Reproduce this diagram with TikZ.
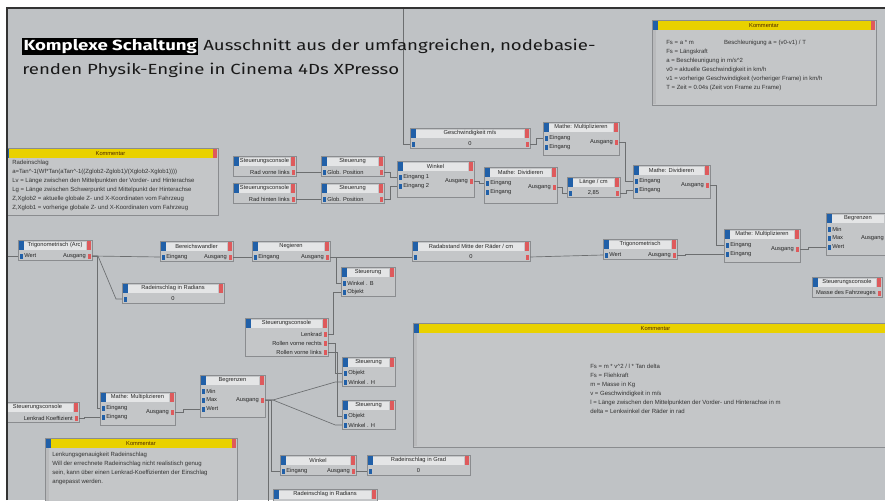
\documentclass[tikz,border=0pt]{standalone}
\usepackage{fontspec}
\setmainfont{Liberation Sans}
\newfontfamily\capfont[FakeStretch=1.27]{Fira Sans}
\usetikzlibrary{calc}
\setlength{\fboxsep}{1pt}

\definecolor{xpbg}{HTML}{BFC2C5}
\definecolor{xpbody}{HTML}{C4C6C8}
\definecolor{xpedge}{HTML}{8A8C8F}
\definecolor{xphead}{HTML}{E4E5E6}
\definecolor{xpblue}{HTML}{2160A8}
\definecolor{xpred}{HTML}{DE5A5C}
\definecolor{xpyellow}{HTML}{E9D100}
\definecolor{xpwire}{HTML}{6C6E70}

\tikzset{
  xbody/.style={fill=xpbody, draw=xpedge, line width=0.45pt},
  xhead/.style={fill=xphead},
  xblue/.style={fill=xpblue},
  xred/.style={fill=xpred},
  xyellow/.style={fill=xpyellow},
  xstrip/.style={fill=xpedge!60},
  xlabel/.style={font=\fontsize{4.3}{5}\selectfont, inner sep=0pt, text=black!85},
  xnote/.style={font=\fontsize{4.5}{6.8}\selectfont, inner sep=0pt, text=black!80, align=left, anchor=north west},
  wire/.style={draw=xpwire, line width=0.5pt},
  captext/.style={font=\capfont\fontsize{11}{13}\selectfont, inner sep=0pt, text=black!90},
}

\newcommand{\xpnode}[6]{%
  \coordinate (#1) at (#2,#3);
  \coordinate (#1-ne) at (#2+#4,#3);
  \coordinate (#1-c) at (#2+#4/2,#3);
  \filldraw[xbody] (#1) rectangle ++(#4,11+9*#5);
  \fill[xhead] ([shift={(6,1.5)}]#1) rectangle ++(#4-12,8);
  \fill[xblue] ([shift={(1,1)}]#1) rectangle ++(4.5,9);
  \fill[xred] ([shift={(-5.5,1)}]#1-ne) rectangle ++(4.5,9);
  \node[xlabel] (#1-t) at ([shift={(0,5.5)}]#1-c) {#6};
}
\newcommand{\xpin}[4]{%
  \coordinate (#1-#2) at ([shift={(0,7+9*#3)}]#1);
  \fill[xblue] ([shift={(1.5,4.5+9*#3)}]#1) rectangle ++(3,5);
  \node[xlabel, anchor=west] (#1-l#2) at ([shift={(6,7+9*#3)}]#1) {#4};
}
\newcommand{\xpout}[4]{%
  \coordinate (#1-#2) at ([shift={(0,7+9*#3)}]#1-ne);
  \fill[xred] ([shift={(-4.5,4.5+9*#3)}]#1-ne) rectangle ++(3,5);
  \node[xlabel, anchor=east] (#1-l#2) at ([shift={(-6,7+9*#3)}]#1-ne) {#4};
}
\newcommand{\xpval}[2]{%
  \node[xlabel] (#1-v) at ([shift={(0,16)}]#1-c) {#2};
}
\newcommand{\xpnote}[5]{%
  \coordinate (#1) at (#2,#3);
  \coordinate (#1-ne) at (#2+#4,#3);
  \coordinate (#1-c) at (#2+#4/2,#3);
  \filldraw[xbody] (#1) rectangle ++(#4,#5);
  \fill[xyellow] ([shift={(5.5,1)}]#1) rectangle ++(#4-11,9);
  \fill[xblue] ([shift={(1,1)}]#1) rectangle ++(4.5,9);
  \fill[xred] ([shift={(-5.5,1)}]#1-ne) rectangle ++(4.5,9);
  \fill[xstrip] ([shift={(1,10)}]#1) rectangle ++(3,#5-11);
  \node[xlabel, text=black!70!orange] (#1-t) at ([shift={(0,5.5)}]#1-c) {Kommentar};
}

\begin{document}
\begin{tikzpicture}[x=0.75pt,y=-0.75pt]
  \useasboundingbox (0,0) rectangle (885,500);
  \fill[white] (0,0) rectangle (885,500);
  \fill[xpbg] (7,8) rectangle (885,500);

  \begin{scope}
    \clip (7,8) rectangle (885,500);

    \xpnote{komtr}{652}{20}{224}{85}
    \node[xnote] (komtr-x) at (666,40) {Fs = a * m \hspace{4.5em} Beschleunigung a = (v0-v1) / T\\
      Fs = Längskraft\\
      a = Beschleunigung in m/s\textasciicircum 2\\
      v0 = aktuelle Geschwindigkeit in km/h\\
      v1 = vorherige Geschwindigkeit (vorheriger Frame) in km/h\\
      T = Zeit = 0.04s (Zeit von Frame zu Frame)};

    \xpnote{komtl}{3}{148}{215}{67}
    \node[xnote] (komtl-x) at (12,160) {Radeinschlag\\
      a=Tan\textasciicircum-1(Wf*Tan(aTan\textasciicircum-1((Zglob2-Zglob1)/(Xglob2-Xglob1))))\\
      Lv = Länge zwischen den Mittelpunkten der Vorder- und Hinterachse\\
      Lg = Länge zwischen Schwerpunkt und Mittelpunkt der Hinterachse\\
      Z,Xglob2 = aktuelle globale Z- und X-Koordinaten vom Fahrzeug\\
      Z,Xglob1 = vorherige globale Z- und X-Koordinaten vom Fahrzeug};

    \xpnote{komgr}{413}{323}{485}{124}
    \node[xnote] (komgr-x) at (590,364) {Fs = m * v\textasciicircum 2 / l * Tan delta\\
      Fs = Fliehkraft\\
      m = Masse in Kg\\
      v = Geschwindigkeit in m/s\\
      l = Länge zwischen den Mittelpunkten der Vorder- und Hinterachse in m\\
      delta = Lenkwinkel der Räder in rad};

    \xpnote{kombl}{45}{438}{192}{70}
    \node[xnote] (kombl-x) at (52,452) {Lenkungsgenauigkeit Radeinschlag\\
      Will der errechnete Radeinschlag nicht realistisch genug\\
      sein, kann über einen Lenkrad-Koeffizienten der Einschlag\\
      angepasst werden.};

    \xpnode{sca}{233}{156}{63}{1}{Steuerungsconsole}
    \xpout{sca}{o}{1}{Rad vorne links}
    \xpnode{scb}{233}{183}{63}{1}{Steuerungsconsole}
    \xpout{scb}{o}{1}{Rad hinten links}
    \xpnode{sta}{321}{156}{63}{1}{Steuerung}
    \xpin{sta}{i}{1}{Glob. Position}
    \xpout{sta}{o}{1}{}
    \xpnode{stb}{321}{183}{63}{1}{Steuerung}
    \xpin{stb}{i}{1}{Glob. Position}
    \xpout{stb}{o}{1}{}
    \xpnode{wink}{397}{161}{77}{2.8}{Winkel}
    \xpin{wink}{i1}{1}{Eingang 1}
    \xpin{wink}{i2}{2}{Eingang 2}
    \xpout{wink}{o}{1.5}{Ausgang}
    \xpnode{mdiv}{484}{167}{73}{2.8}{Mathe: Dividieren}
    \xpin{mdiv}{i1}{1}{Eingang}
    \xpin{mdiv}{i2}{2}{Eingang}
    \xpout{mdiv}{o}{1.5}{Ausgang}
    \xpnode{laenge}{567}{177}{53}{1}{Länge / cm}
    \xpin{laenge}{i}{1}{}
    \xpout{laenge}{o}{1}{}
    \xpval{laenge}{2,85}
    \xpnode{geschw}{410}{128}{120}{1}{Geschwindigkeit m/s}
    \xpin{geschw}{i}{1}{}
    \xpout{geschw}{o}{1}{}
    \xpval{geschw}{0}
    \xpnode{mmul}{543}{122}{76}{2.5}{Mathe: Multiplizieren}
    \xpin{mmul}{i1}{1}{Eingang}
    \xpin{mmul}{i2}{2}{Eingang}
    \xpout{mmul}{o}{1.5}{Ausgang}
    \xpnode{mdivb}{633}{165}{77}{2.5}{Mathe: Dividieren}
    \xpin{mdivb}{i1}{1}{Eingang}
    \xpin{mdivb}{i2}{2}{Eingang}
    \xpout{mdivb}{o}{1.5}{Ausgang}
    \xpnode{mmulb}{724}{229}{76}{2.5}{Mathe: Multiplizieren}
    \xpin{mmulb}{i1}{1}{Eingang}
    \xpin{mmulb}{i2}{2}{Eingang}
    \xpout{mmulb}{o}{1.5}{Ausgang}
    \xpnode{begr}{826}{213}{64}{3.5}{Begrenzen}
    \xpin{begr}{i1}{1}{Min}
    \xpin{begr}{i2}{2}{Max}
    \xpin{begr}{i3}{3}{Wert}
    \xpout{begr}{o}{2}{Ausgang}
    \xpnode{scc}{812}{277}{70}{1}{Steuerungsconsole}
    \xpout{scc}{o}{1}{Masse des Fahrzeuges}
    \xpnode{trigb}{603}{239}{74}{1}{Trigonometrisch}
    \xpin{trigb}{i}{1}{Wert}
    \xpout{trigb}{o}{1}{Ausgang}
    \xpnode{radab}{412}{241}{118}{1}{Radabstand Mitte der Räder / cm}
    \xpin{radab}{i}{1}{}
    \xpout{radab}{o}{1}{}
    \xpval{radab}{0}
    \xpnode{triga}{18}{240}{74}{1}{Trigonometrisch (Arc)}
    \xpin{triga}{i}{1}{Wert}
    \xpout{triga}{o}{1}{Ausgang}
    \xpnode{bwand}{160}{241}{73}{1}{Bereichswandler}
    \xpin{bwand}{i}{1}{Eingang}
    \xpout{bwand}{o}{1}{Ausgang}
    \xpnode{neg}{252}{241}{78}{1}{Negieren}
    \xpin{neg}{i}{1}{Eingang}
    \xpout{neg}{o}{1}{Ausgang}
    \xpnode{radrad}{122}{283}{102}{1}{Radeinschlag in Radians}
    \xpin{radrad}{i}{1}{}
    \xpval{radrad}{0}
    \xpnode{stc}{341}{267}{54}{2}{Steuerung}
    \xpin{stc}{i1}{1}{Winkel . B}
    \xpin{stc}{i2}{2}{Objekt}
    \xpnode{scd}{245}{318}{83}{3}{Steuerungsconsole}
    \xpout{scd}{o1}{1}{Lenkrad}
    \xpout{scd}{o2}{2}{Rollen vorne rechts}
    \xpout{scd}{o3}{3}{Rollen vorne links}
    \xpnode{std}{342}{357}{53}{2}{Steuerung}
    \xpin{std}{i1}{1}{Objekt}
    \xpin{std}{i2}{2}{Winkel . H}
    \xpnode{ste}{342}{400}{53}{2}{Steuerung}
    \xpin{ste}{i1}{1}{Objekt}
    \xpin{ste}{i2}{2}{Winkel . H}
    \xpnode{begrb}{200}{375}{65}{3.5}{Begrenzen}
    \xpin{begrb}{i1}{1}{Min}
    \xpin{begrb}{i2}{2}{Max}
    \xpin{begrb}{i3}{3}{Wert}
    \xpout{begrb}{o}{2}{Ausgang}
    \xpnode{mmulc}{100}{392}{75}{2.5}{Mathe: Multiplizieren}
    \xpin{mmulc}{i1}{1}{Eingang}
    \xpin{mmulc}{i2}{2}{Eingang}
    \xpout{mmulc}{o}{1.5}{Ausgang}
    \xpnode{sce}{-4}{402}{83}{1}{Steuerungsconsole}
    \xpout{sce}{o}{1}{Lenkrad Koeffizient}
    \xpnode{winkb}{280}{455}{76}{1}{Winkel}
    \xpin{winkb}{i}{1}{Eingang}
    \xpout{winkb}{o}{1}{Ausgang}
    \xpnode{radgrad}{367}{455}{103}{1}{Radeinschlag in Grad}
    \xpin{radgrad}{i}{1}{}
    \xpval{radgrad}{0}
    \xpnode{radradb}{273}{489}{104}{1}{Radeinschlag in Radians}
    \xpin{radradb}{i}{1}{}

    \coordinate (topw) at (403,8);
    \coordinate (leftw) at (7,256);
    \draw[wire] (topw) |- (geschw-i);
    \draw[wire] (geschw-o) -- ++(6,0) |- (mmul-i1);
    \draw[wire] (mmul-o) -- ++(6,0) |- (mdivb-i1);
    \draw[wire] (laenge-o) -- ++(6,0) |- (mdivb-i2);
    \draw[wire] (mdiv-o) -- ++(5,0) |- (laenge-i);
    \draw[wire] (wink-o) -- ++(5,0) |- (mdiv-i1);
    \draw[wire] (sta-o) -- ++(6,0) |- (wink-i1);
    \draw[wire] (stb-o) -- ++(6,0) |- (wink-i2);
    \draw[wire] (sca-o) -- (sta-i);
    \draw[wire] (scb-o) -- (stb-i);
    \draw[wire] (mdivb-o) -- ++(6,0) |- (mmulb-i1);
    \draw[wire] (trigb-o) -- ++(8,0) |- (mmulb-i2);
    \draw[wire] (mmulb-o) -- ++(8,0) |- (begr-i3);
    \draw[wire] (leftw) -- (triga-i);
    \draw[wire] (triga-o) -- (bwand-i);
    \draw[wire] (bwand-o) -- (neg-i);
    \draw[wire] (neg-o) -- (radab-i);
    \draw[wire] (radab-o) -- (trigb-i);
    \draw[wire] (neg-o) -- ++(6,0) |- (stc-i1);
    \draw[wire] (triga-o) -- ++(6,0) -- ++(18,43) -- (radrad-i);
    \draw[wire] (triga-o) -- ++(5,0) |- (mmulc-i1);
    \draw[wire] (sce-o) -- ++(5,0) |- (mmulc-i2);
    \draw[wire] (mmulc-o) -- ++(8,0) |- (begrb-i3);
    \draw[wire] (begrb-o) -- ++(8,0) -- ([xshift=-5]std-i2) -- (std-i2);
    \draw[wire] (begrb-o) -- ++(8,0) -- ([xshift=-5]ste-i2) -- (ste-i2);
    \draw[wire] (begrb-o) -- ++(6,0) |- (winkb-i);
    \draw[wire] (begrb-o) -- ++(3,0) |- (radradb-i);
    \draw[wire] (scd-o1) -- ++(5,0) |- (stc-i2);
    \draw[wire] (scd-o2) -- ++(7,0) |- (std-i1);
    \draw[wire] (scd-o3) -- ++(9,0) |- (ste-i1);
    \draw[wire] (winkb-o) -- (radgrad-i);
  \end{scope}

  \draw[black!80, line width=1.1pt] (7,500) -- (7,8) -- (885,8);

  \node[captext, anchor=base west] (cap1) at (22,50) {\colorbox{black}{\color{white}\bfseries Komplexe Schaltung} Ausschnitt aus der umfangreichen, nodebasie-};
  \node[captext, anchor=base west] (cap2) at (22,74) {renden Physik-Engine in Cinema 4Ds XPresso};
\end{tikzpicture}
\end{document}
